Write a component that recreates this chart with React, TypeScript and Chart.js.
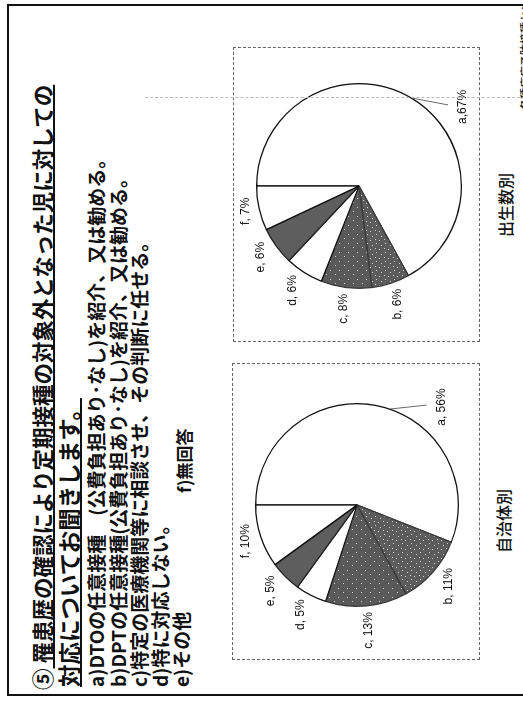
import React, { useEffect, useRef } from "react";
import { Chart, registerables } from "chart.js";

Chart.register(...registerables);

// ---- data ----
const categories = ["a", "b", "c", "d", "e", "f"];
const birthValues = [67, 6, 8, 6, 6, 7]; // 出生数別
const municipalValues = [56, 11, 13, 5, 5, 10]; // 自治体別
const birthLabels = ["a,67%", "b, 6%", "c, 8%", "d, 6%", "e, 6%", "f, 7%"];
const municipalLabels = ["a, 56%", "b, 11%", "c, 13%", "d, 5%", "e, 5%", "f, 10%"];
const birthTitle = "出生数別";
const municipalTitle = "自治体別";

const JP = "'Noto Sans CJK JP', 'Noto Sans', sans-serif";

function makeSpeckle(base: string, dots: number[][]) {
  const c = document.createElement("canvas");
  c.width = 9;
  c.height = 9;
  const g = c.getContext("2d")!;
  g.fillStyle = base;
  g.fillRect(0, 0, 9, 9);
  g.fillStyle = "#cfcfcf";
  dots.forEach(([x, y]) => g.fillRect(x, y, 1, 1));
  return g.createPattern(c, "repeat");
}

const outLabels = {
  id: "outLabels",
  afterDatasetsDraw(chart: any, _args: any, opts: any) {
    const ctx = chart.ctx;
    const meta = chart.getDatasetMeta(0);
    const labels = opts.texts as string[];
    ctx.save();
    ctx.font = "12px 'Liberation Sans', Arial, sans-serif";
    ctx.fillStyle = "#111";
    ctx.textAlign = "center";
    ctx.textBaseline = "middle";
    meta.data.forEach((arc: any, i: number) => {
      const p = arc.getProps(["x", "y", "startAngle", "endAngle", "outerRadius"], true);
      const mid = (p.startAngle + p.endAngle) / 2;
      const text = labels[i];
      const w = ctx.measureText(text).width;
      const h = 9;
      if (i === 0) {
        const a = mid + (opts.leaderShift * Math.PI) / 180;
        const px = p.x + Math.cos(a) * p.outerRadius;
        const py = p.y + Math.sin(a) * p.outerRadius;
        const qx = px + opts.leaderDx;
        const qy = py + 37;
        ctx.beginPath();
        ctx.moveTo(px, py);
        ctx.lineTo(qx, qy);
        ctx.lineWidth = 0.8;
        ctx.strokeStyle = "#444";
        ctx.stroke();
        ctx.fillText(text, qx - 2, qy + 15);
      } else {
        const c = Math.cos(mid);
        const s = Math.sin(mid);
        const d = p.outerRadius + 6 + (Math.abs(c) * w) / 2 + (Math.abs(s) * h) / 2;
        ctx.fillText(text, p.x + c * d, p.y + s * d);
      }
    });
    ctx.restore();
  },
};

type PieProps = {
  values: number[];
  texts: string[];
  width: number;
  height: number;
  padding: { left: number; right: number; top: number; bottom: number };
  leaderShift: number;
  leaderDx: number;
};

function PieBox(props: PieProps) {
  const ref = useRef<HTMLCanvasElement>(null);
  useEffect(() => {
    const cv = ref.current!;
    const g = cv.getContext("2d")!;
    const bPat = makeSpeckle("#5c5c5c", [[1, 1], [5, 3], [2, 6], [7, 7]]);
    const cPat = makeSpeckle("#595959", [[3, 2], [7, 6]]);
    const chart = new Chart(g, {
      type: "pie",
      data: {
        labels: categories,
        datasets: [
          {
            data: props.values,
            backgroundColor: ["#ffffff", bPat as any, cPat as any, "#ffffff", "#5e5e5e", "#ffffff"],
            borderColor: ["#111", "#3c3c3c", "#3c3c3c", "#111", "#222", "#111"],
            borderWidth: 1.3,
          },
        ],
      },
      options: {
        animation: false,
        responsive: false,
        devicePixelRatio: 1,
        layout: { padding: props.padding },
        plugins: {
          legend: { display: false },
          tooltip: { enabled: false },
          outLabels: { texts: props.texts, leaderShift: props.leaderShift, leaderDx: props.leaderDx },
        } as any,
      },
      plugins: [outLabels],
    });
    return () => chart.destroy();
  }, []);
  return (
    <canvas
      ref={ref}
      width={props.width}
      height={props.height}
      style={{ position: "absolute", left: 0, top: 0, width: props.width, height: props.height }}
    />
  );
}

function Line(p: { u: number; v: number; fs: number; children: any; weight?: number }) {
  return (
    <div
      style={{
        position: "absolute",
        left: p.u,
        top: p.v - p.fs / 2,
        fontSize: p.fs,
        lineHeight: p.fs + "px",
        height: p.fs,
        whiteSpace: "nowrap",
        fontFamily: JP,
        fontWeight: p.weight ?? 700,
        color: "#111",
      }}
    >
      {p.children}
    </div>
  );
}

export default function App() {
  const ul: React.CSSProperties = {
    textDecoration: "underline",
    textDecorationThickness: "1.5px",
    textUnderlineOffset: "2px",
  };
  return (
    <div
      style={{
        position: "absolute",
        left: 0,
        top: 0,
        width: 523,
        height: 703,
        overflow: "hidden",
        background: "#fff",
      }}
    >
      <div
        style={{
          position: "absolute",
          left: 0,
          top: 0,
          width: 703,
          height: 523,
          transformOrigin: "0 0",
          transform: "translateY(703px) rotate(-90deg)",
          background: "#fff",
        }}
      >
        {/* page frame */}
        <div
          style={{
            position: "absolute",
            left: 7,
            top: 7,
            width: 692,
            height: 540,
            border: "2px solid #111",
            boxSizing: "border-box",
          }}
        />
        {/* text block */}
        <Line u={13} v={42} fs={21.5}>
          ⑤<span style={ul}> 罹患歴の確認により定期接種の対象外となった児に対しての</span>
        </Line>
        <Line u={16} v={68} fs={22.5}>
          <span style={ul}>対応についてお聞きします。</span>
        </Line>
        <Line u={16} v={95} fs={19}>a)DTOの任意接種　(公費負担あり･なし)を紹介、又は勧める。</Line>
        <Line u={16} v={117} fs={19}>b)DPTの任意接種(公費負担あり･なし)を紹介、又は勧める。</Line>
        <Line u={16} v={138} fs={19}>c)特定の医療機関等に相談させ、その判断に任せる。</Line>
        <Line u={16} v={159} fs={19}>d)特に対応しない。</Line>
        <Line u={16} v={180} fs={19}>e)その他</Line>
        <Line u={210} v={183} fs={17}>f)無回答</Line>

        {/* chart: 自治体別 */}
        <div
          style={{
            position: "absolute",
            left: 43,
            top: 232,
            width: 297,
            height: 248,
            border: "1px dashed #666",
            boxSizing: "border-box",
          }}
        >
          <PieBox
            values={municipalValues}
            texts={municipalLabels}
            width={297}
            height={248}
            padding={{ left: 52, right: 41, top: 22, bottom: 22 }}
            leaderShift={8}
            leaderDx={4}
          />
        </div>
        <Line u={150} v={503} fs={16} weight={500}>{municipalTitle}</Line>

        {/* chart: 出生数別 */}
        <div
          style={{
            position: "absolute",
            left: 361,
            top: 233,
            width: 295,
            height: 247,
            border: "1px dashed #666",
            boxSizing: "border-box",
          }}
        >
          <PieBox
            values={birthValues}
            texts={birthLabels}
            width={295}
            height={247}
            padding={{ left: 52, right: 37, top: 22, bottom: 19 }}
            leaderShift={0}
            leaderDx={-7}
          />
        </div>
        <Line u={466} v={505} fs={16} weight={500}>{birthTitle}</Line>
        <Line u={593} v={525} fs={11} weight={500}>各種疫病予防接種センター</Line>

        {/* faint scan fold */}
        <div
          style={{
            position: "absolute",
            left: 605,
            top: 145,
            width: 0,
            height: 380,
            borderLeft: "1px dashed #bbb",
          }}
        />
      </div>
    </div>
  );
}
